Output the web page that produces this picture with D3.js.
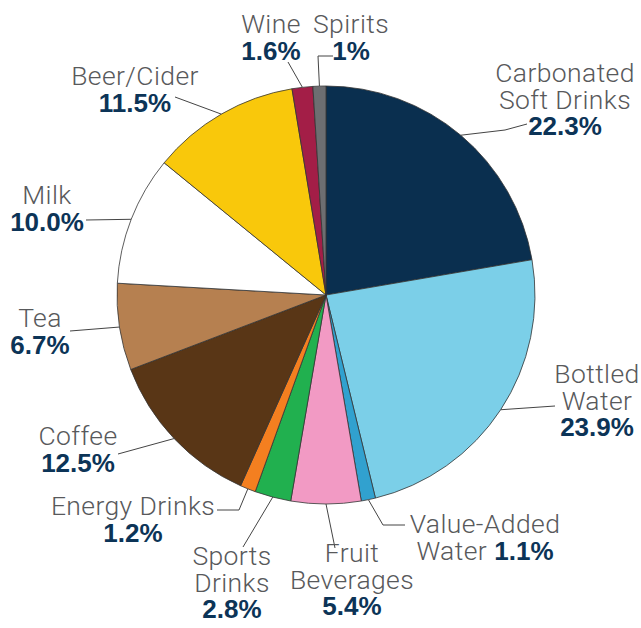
<!DOCTYPE html>
<html lang="en">
<head>
    <meta charset="UTF-8">
    <script src="https://d3js.org/d3.v7.min.js"></script>
    <style>
        body { margin: 0; background: #fff; }
        .name { font-family: "Helvetica Neue", Roboto, "Liberation Sans", Arial, sans-serif; font-weight: 300; fill: #58595b; font-size: 26.5px; letter-spacing: 0.4px; }
        .pct { font-family: "Liberation Sans", Arial, sans-serif; font-weight: bold; fill: #0c3457; font-size: 26px; letter-spacing: 0px; }
    </style>
</head>
<body>
    <svg id="chart"></svg>

    <script>
        const categories = ["Carbonated Soft Drinks", "Bottled Water", "Value-Added Water", "Fruit Beverages",
            "Sports Drinks", "Energy Drinks", "Coffee", "Tea", "Milk", "Beer/Cider", "Wine", "Spirits"];
        const shares = [22.3, 23.9, 1.1, 5.4, 2.8, 1.2, 12.5, 6.7, 10.0, 11.5, 1.6, 1];
        const shareLabels = ["22.3%", "23.9%", "1.1%", "5.4%", "2.8%", "1.2%", "12.5%", "6.7%", "10.0%", "11.5%", "1.6%", "1%"];
        const colors = ["#0a2f4f", "#7bcfe8", "#31a1cf", "#f29ac4", "#21b04f", "#f47f20",
            "#593616", "#b68050", "#ffffff", "#f9c80b", "#a31e47", "#6d6e71"];

        // label placement (hand-tuned to the original layout)
        const labelLayout = [
            { lines: ["Carbonated", "Soft Drinks"], x: 565, y: 82, leader: [[505, 130], [527, 124]] },
            { lines: ["Bottled", "Water"], x: 597, y: 383, leader: [[555, 406]] },
            { lines: ["Value-Added", "Water"], x: 485, y: 533, inline: true, leader: [[383, 525], [405, 525]] },
            { lines: ["Fruit", "Beverages"], x: 352, y: 562, leader: [[335, 548]] },
            { lines: ["Sports", "Drinks"], x: 232, y: 565, leader: [[243, 547]] },
            { lines: ["Energy Drinks"], x: 133, y: 515, leader: [[239, 510], [217, 510]] },
            { lines: ["Coffee"], x: 78, y: 445, leader: [[118, 454]] },
            { lines: ["Tea"], x: 40, y: 327, leader: [[70, 331]] },
            { lines: ["Milk"], x: 47, y: 204, leader: [[86, 220]] },
            { lines: ["Beer/Cider"], x: 135, y: 85, leader: [[175, 97]] },
            { lines: ["Wine"], x: 271, y: 33, leader: [[288, 62]] },
            { lines: ["Spirits"], x: 351, y: 33, leader: [[318, 56], [333, 56]] }
        ];

        const width = 641, height = 628;
        const cx = 326, cy = 295, radius = 209;
        const lineH = 26.5;

        const svg = d3.select("#chart")
            .attr("width", width)
            .attr("height", height);

        const data = categories.map((c, i) => ({ name: c, value: shares[i], label: shareLabels[i], color: colors[i], lay: labelLayout[i] }));

        const pie = d3.pie().sort(null).value(d => d.value);
        const arc = d3.arc().innerRadius(0).outerRadius(radius);
        const arcs = pie(data);

        const g = svg.append("g").attr("transform", `translate(${cx},${cy})`);

        g.selectAll("path.slice")
            .data(arcs)
            .enter()
            .append("path")
            .attr("class", "slice")
            .attr("d", arc)
            .attr("fill", d => d.data.color)
            .attr("stroke", "#333")
            .attr("stroke-width", 0.8)
            .attr("stroke-linejoin", "round");

        // leader lines start on the rim at the middle of each slice
        const line = d3.line();
        svg.selectAll("path.leader")
            .data(arcs)
            .enter()
            .append("path")
            .attr("class", "leader")
            .attr("d", d => {
                const a = (d.startAngle + d.endAngle) / 2;
                const start = [cx + radius * Math.sin(a), cy - radius * Math.cos(a)];
                return line([start, ...d.data.lay.leader]);
            })
            .attr("fill", "none")
            .attr("stroke", "#444")
            .attr("stroke-width", 1);

        const labels = svg.selectAll("text.label")
            .data(arcs)
            .enter()
            .append("text")
            .attr("class", "label")
            .attr("text-anchor", "middle");

        labels.each(function (d) {
            const t = d3.select(this);
            const lay = d.data.lay;
            lay.lines.forEach((l, i) => {
                t.append("tspan")
                    .attr("class", "name")
                    .attr("x", lay.x)
                    .attr("y", lay.y + i * lineH)
                    .text(l);
                if (lay.inline && i === lay.lines.length - 1) {
                    t.append("tspan").attr("class", "pct").text(" " + d.data.label);
                }
            });
            if (!lay.inline) {
                t.append("tspan")
                    .attr("class", "pct")
                    .attr("x", lay.x)
                    .attr("y", lay.y + lay.lines.length * lineH)
                    .text(d.data.label);
            }
        });
    </script>
</body>
</html>
